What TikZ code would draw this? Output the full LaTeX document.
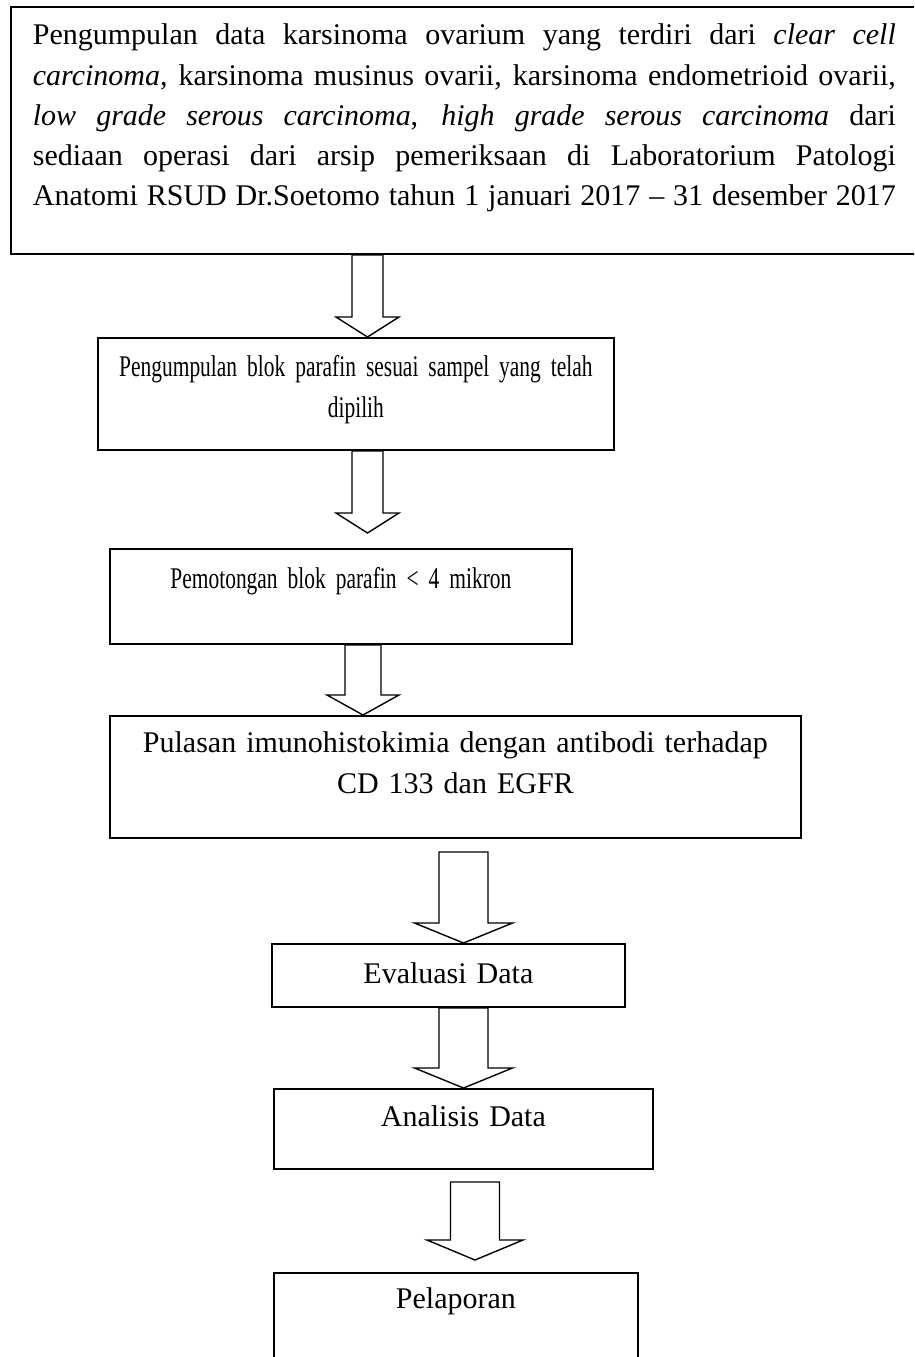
\documentclass[tikz,border=0pt]{standalone}
\usepackage{fontspec}
\setmainfont{Liberation Serif}
\newfontfamily\narrowfont{Liberation Serif}[FakeStretch=0.715]

\newcommand{\justline}[1]{\makebox[863pt][s]{\spaceskip=.25em plus 1fil minus .05em\xspaceskip=\spaceskip\relax #1}}
\newcommand{\hollowarrow}[4]{%
  \draw[bigarrow] ([xshift=-#3pt]#1) -- ([xshift=-#3pt, yshift=20pt]#2)
    -- ([xshift=-#4pt, yshift=20pt]#2) -- (#2)
    -- ([xshift=#4pt, yshift=20pt]#2) -- ([xshift=#3pt, yshift=20pt]#2)
    -- ([xshift=#3pt]#1) -- cycle;}

\begin{document}
\begin{tikzpicture}[x=1pt, y=-1pt,
    font=\fontsize{30}{40.2}\selectfont,
    box/.style={rectangle, draw, line width=1.8pt, inner sep=0pt, align=center, anchor=north west},
    narrow/.style={font=\narrowfont\fontsize{30}{40.2}\selectfont},
    bigarrow/.style={draw, line width=1.4pt, line join=miter}]
    \path[use as bounding box, clip] (0,0) rectangle (914,1357);

    \node (data) [box, align=left, text width=863pt, inner xsep=22pt, text height=38pt, text depth=209pt] at (10,6)
        {\justline{Pengumpulan data karsinoma ovarium yang terdiri dari \textit{clear cell}}\\
         \justline{\textit{carcinoma}, karsinoma musinus ovarii, karsinoma endometrioid ovarii,}\\
         \justline{\textit{low grade serous carcinoma}, \textit{high grade serous carcinoma} dari}\\
         \justline{sediaan operasi dari arsip pemeriksaan di Laboratorium Patologi}\\
         \justline{Anatomi RSUD Dr.Soetomo tahun 1 januari 2017 -- 31 desember 2017}};
    \node (block) [box, narrow, text width=516pt, text height=39pt, text depth=73pt] at (97,337)
        {Pengumpulan blok parafin sesuai sampel yang telah\\ dipilih};
    \node (cut) [box, narrow, text width=462pt, text height=40pt, text depth=55pt] at (109,548)
        {Pemotongan blok parafin < 4 mikron};
    \node (stain) [box, text width=691pt, text height=37pt, text depth=85pt] at (109,715)
        {Pulasan imunohistokimia dengan antibodi terhadap\\ CD 133 dan EGFR};
    \node (eval) [box, text width=353pt, text height=40pt, text depth=23pt] at (271,943) {Evaluasi Data};
    \node (analysis) [box, text width=379pt, text height=38pt, text depth=42pt] at (273,1088) {Analisis Data};
    \node (report) [box, text width=364pt, text height=36pt, text depth=112pt] at (273,1272) {Pelaporan};

    % arrow ends
    \coordinate (a1t) at (367.5,0 |- data.south);
    \coordinate (a1h) at (367.5,0 |- block.north);
    \coordinate (a2t) at (367.5,0 |- block.south);
    \coordinate (a2h) at (367.5,533);
    \coordinate (a3t) at (363,0 |- cut.south);
    \coordinate (a3h) at (363,0 |- stain.north);
    \coordinate (a4t) at (463.5,852);
    \coordinate (a4h) at (463.5,0 |- eval.north);
    \coordinate (a5t) at (463.5,0 |- eval.south);
    \coordinate (a5h) at (463.5,0 |- analysis.north);
    \coordinate (a6t) at (475,1182);
    \coordinate (a6h) at (475,1260);

    \hollowarrow{a1t}{a1h}{15.5}{31.5}
    \hollowarrow{a2t}{a2h}{15.5}{31.5}
    \hollowarrow{a3t}{a3h}{18}{36}
    \hollowarrow{a4t}{a4h}{24.5}{49}
    \hollowarrow{a5t}{a5h}{24.5}{49}
    \hollowarrow{a6t}{a6h}{24.5}{48}
\end{tikzpicture}
\end{document}
